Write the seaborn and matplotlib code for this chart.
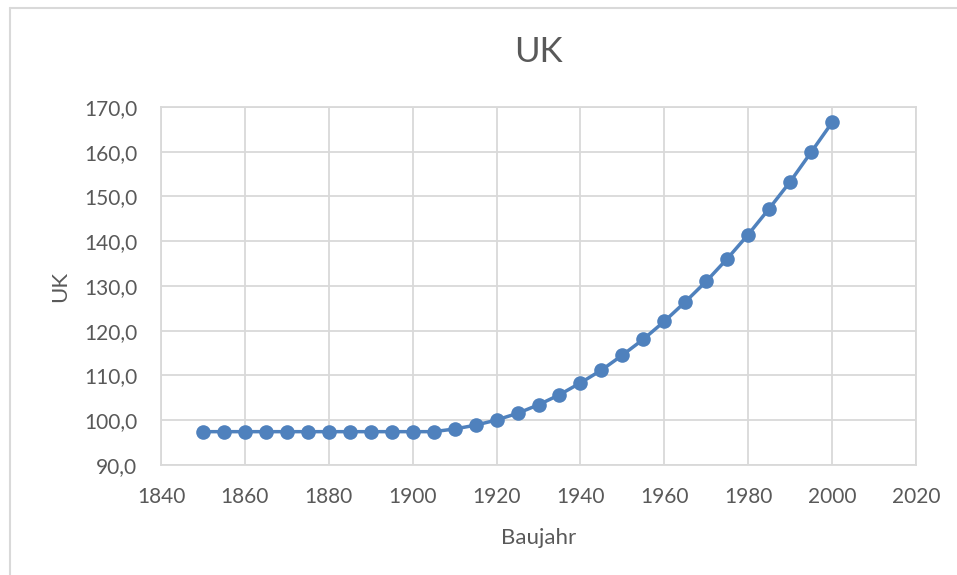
import matplotlib
matplotlib.use("Agg")
import matplotlib.pyplot as plt
from matplotlib.lines import Line2D
from matplotlib.ticker import FuncFormatter
import seaborn as sns
import pandas as pd

# Construction year and corresponding UK value
baujahr = [1850, 1855, 1860, 1865, 1870, 1875, 1880, 1885, 1890, 1895,
           1900, 1905, 1910, 1915, 1920, 1925, 1930, 1935, 1940, 1945,
           1950, 1955, 1960, 1965, 1970, 1975, 1980, 1985, 1990, 1995, 2000]
uk = [97.45, 97.45, 97.45, 97.45, 97.45, 97.45, 97.45, 97.45, 97.45, 97.45,
      97.45, 97.45, 98.05, 98.9, 100.05, 101.55, 103.45, 105.7, 108.35, 111.2,
      114.55, 118.1, 122.1, 126.45, 131.05, 136.1, 141.5, 147.3, 153.3, 159.9, 166.55]

x_ticks = [1840, 1860, 1880, 1900, 1920, 1940, 1960, 1980, 2000, 2020]
y_ticks = [90, 100, 110, 120, 130, 140, 150, 160, 170]

title = "UK"
x_label = "Baujahr"
y_label = "UK"

df = pd.DataFrame({"Baujahr": baujahr, "UK": uk})

sns.set_theme(style="white")
plt.rcParams["font.family"] = ["Lato", "DejaVu Sans"]

text_color = "#595959"
grid_color = "#d9d9d9"
line_color = "#4F81BD"

fig = plt.figure(figsize=(9.57, 5.75), dpi=100)
ax = fig.add_axes([161 / 957, 1 - 465 / 575, (916 - 161) / 957, (465 - 107) / 575])

sns.lineplot(data=df, x="Baujahr", y="UK", ax=ax, color=line_color,
             linewidth=2.5, marker="o", markersize=10.5,
             markeredgewidth=0, markerfacecolor=line_color, zorder=3)

ax.set_xlim(x_ticks[0], x_ticks[-1])
ax.set_ylim(y_ticks[0], y_ticks[-1])
ax.set_xticks(x_ticks)
ax.set_yticks(y_ticks)
ax.yaxis.set_major_formatter(FuncFormatter(lambda v, p: f"{v:.1f}".replace(".", ",")))

ax.grid(True, color=grid_color, linewidth=1.3)
for side, spine in ax.spines.items():
    spine.set_visible(True)
    spine.set_color(grid_color)
    spine.set_linewidth(1.3)

ax.tick_params(axis="both", length=0, labelsize=15, labelcolor=text_color)
ax.tick_params(axis="x", pad=16)
ax.tick_params(axis="y", pad=17)

ax.set_xlabel(x_label, fontsize=16, color=text_color, labelpad=15)
ax.set_ylabel(y_label, fontsize=16, color=text_color, labelpad=10)
fig.text(538.5 / 957, 1 - 52 / 575, title, ha="center", va="center",
         fontsize=25, color=text_color)

# Chart frame (left and top edges)
fig.add_artist(Line2D([10 / 957, 10 / 957], [0, 1 - 8 / 575],
                      transform=fig.transFigure, color=grid_color, linewidth=1.5))
fig.add_artist(Line2D([10 / 957, 1], [1 - 8 / 575, 1 - 8 / 575],
                      transform=fig.transFigure, color=grid_color, linewidth=1.5))

fig.savefig("out.png", dpi=100, facecolor="white")
